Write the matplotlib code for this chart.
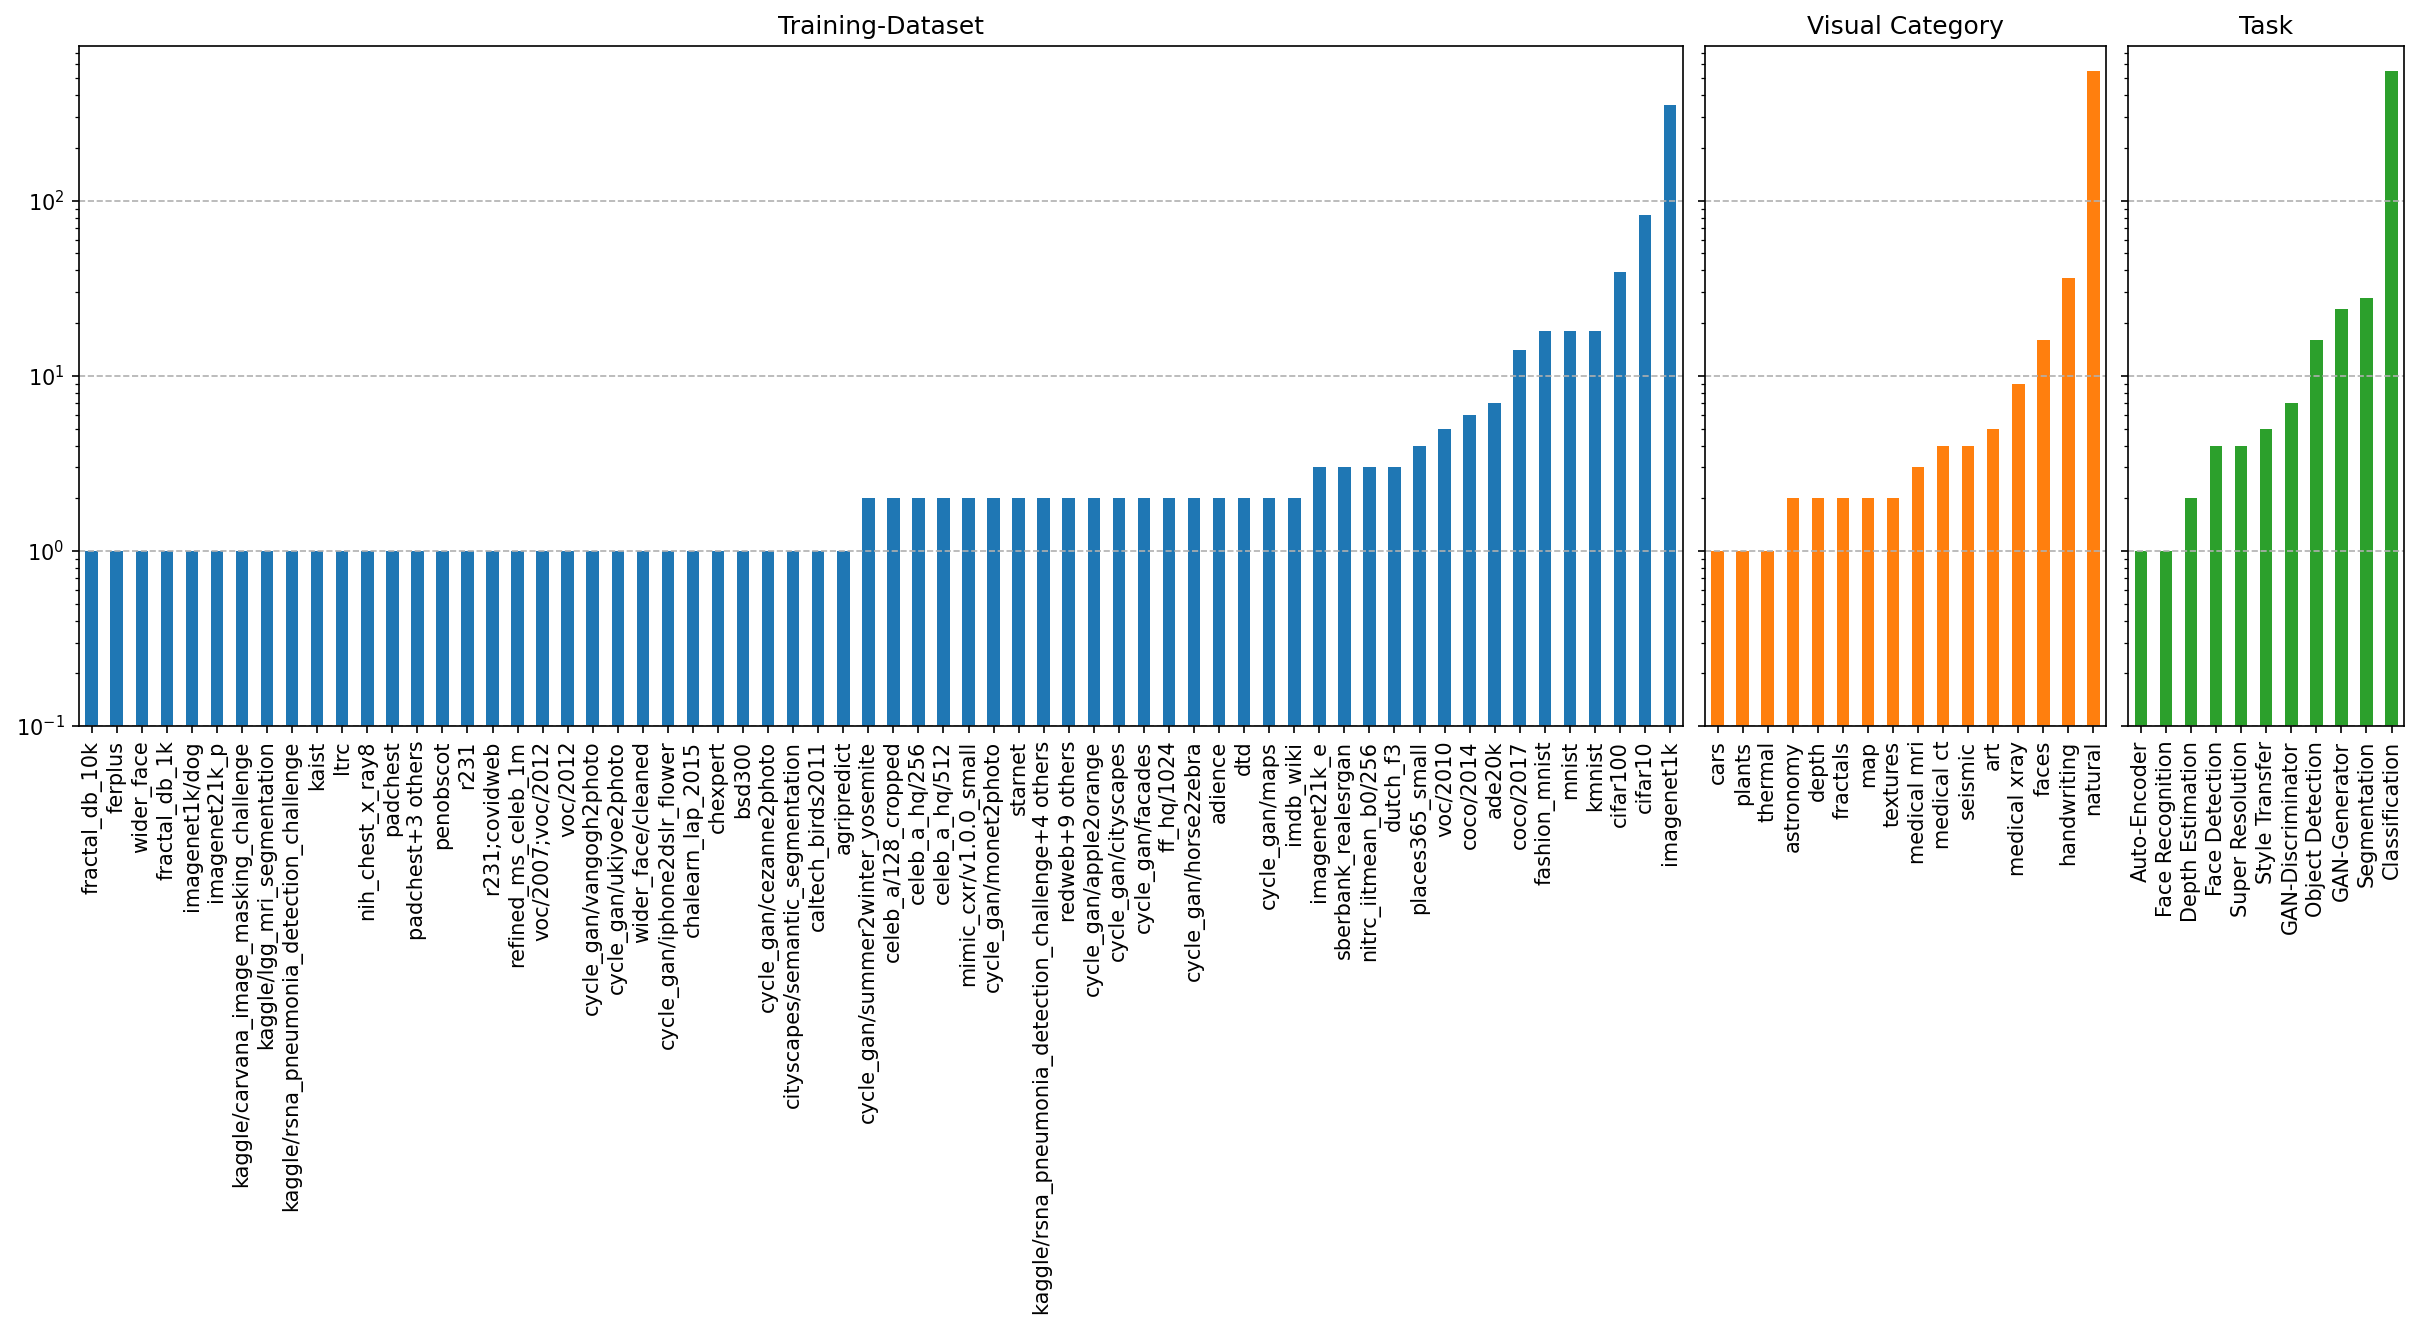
import matplotlib
matplotlib.use("Agg")
import matplotlib.pyplot as plt

dataset_labels = [
    "fractal_db_10k", "ferplus", "wider_face", "fractal_db_1k", "imagenet1k/dog",
    "imagenet21k_p", "kaggle/carvana_image_masking_challenge", "kaggle/lgg_mri_segmentation",
    "kaggle/rsna_pneumonia_detection_challenge", "kaist", "ltrc", "nih_chest_x_ray8",
    "padchest", "padchest+3 others", "penobscot", "r231", "r231;covidweb",
    "refined_ms_celeb_1m", "voc/2007;voc/2012", "voc/2012", "cycle_gan/vangogh2photo",
    "cycle_gan/ukiyoe2photo", "wider_face/cleaned", "cycle_gan/iphone2dslr_flower",
    "chalearn_lap_2015", "chexpert", "bsd300", "cycle_gan/cezanne2photo",
    "cityscapes/semantic_segmentation", "caltech_birds2011", "agripredict",
    "cycle_gan/summer2winter_yosemite", "celeb_a/128_cropped", "celeb_a_hq/256",
    "celeb_a_hq/512", "mimic_cxr/v1.0.0_small", "cycle_gan/monet2photo", "starnet",
    "kaggle/rsna_pneumonia_detection_challenge+4 others", "redweb+9 others",
    "cycle_gan/apple2orange", "cycle_gan/cityscapes", "cycle_gan/facades", "ff_hq/1024",
    "cycle_gan/horse2zebra", "adience", "dtd", "cycle_gan/maps", "imdb_wiki",
    "imagenet21k_e", "sberbank_realesrgan", "nitrc_iitmean_b0/256", "dutch_f3",
    "places365_small", "voc/2010", "coco/2014", "ade20k", "coco/2017", "fashion_mnist",
    "mnist", "kmnist", "cifar100", "cifar10", "imagenet1k",
]
dataset_values = [1] * 31 + [2] * 18 + [3, 3, 3, 3, 4, 5, 6, 7, 14, 18, 18, 18, 39, 83, 352]

visual_labels = [
    "cars", "plants", "thermal", "astronomy", "depth", "fractals", "map", "textures",
    "medical mri", "medical ct", "seismic", "art", "medical xray", "faces",
    "handwriting", "natural",
]
visual_values = [1, 1, 1, 2, 2, 2, 2, 2, 3, 4, 4, 5, 9, 16, 36, 550]

task_labels = [
    "Auto-Encoder", "Face Recognition", "Depth Estimation", "Face Detection",
    "Super Resolution", "Style Transfer", "GAN-Discriminator", "Object Detection",
    "GAN-Generator", "Segmentation", "Classification",
]
task_values = [1, 1, 2, 4, 4, 5, 7, 16, 24, 28, 550]

titles = ["Training-Dataset", "Visual Category", "Task"]
colors = ["#1f77b4", "#ff7f0e", "#2ca02c"]

panels = [
    (dataset_labels, dataset_values),
    (visual_labels, visual_values),
    (task_labels, task_values),
]

fig = plt.figure(figsize=(2420 / 150, 1330 / 150), dpi=150)
gs = fig.add_gridspec(
    1, 3, width_ratios=[len(p[0]) for p in panels],
    left=0.0327, right=0.9934, bottom=0.4541, top=0.9654, wspace=0.0296,
)

axes = []
for i, ((labels, values), title, color) in enumerate(zip(panels, titles, colors)):
    ax = fig.add_subplot(gs[0, i], sharey=axes[0] if axes else None)
    x = list(range(len(labels)))
    ax.bar(x, values, width=0.5, color=color)
    ax.set_yscale("log")
    ax.set_xlim(-0.5, len(labels) - 0.5)
    ax.set_xticks(x)
    ax.set_xticklabels(labels, rotation=90)
    ax.set_title(title)
    ax.grid(axis="y", which="major", linestyle="--")
    if axes:
        ax.tick_params(axis="y", which="both", labelleft=False)
    axes.append(ax)

axes[0].set_ylim(0.1, 765)

fig.savefig("out.png", dpi=150)
